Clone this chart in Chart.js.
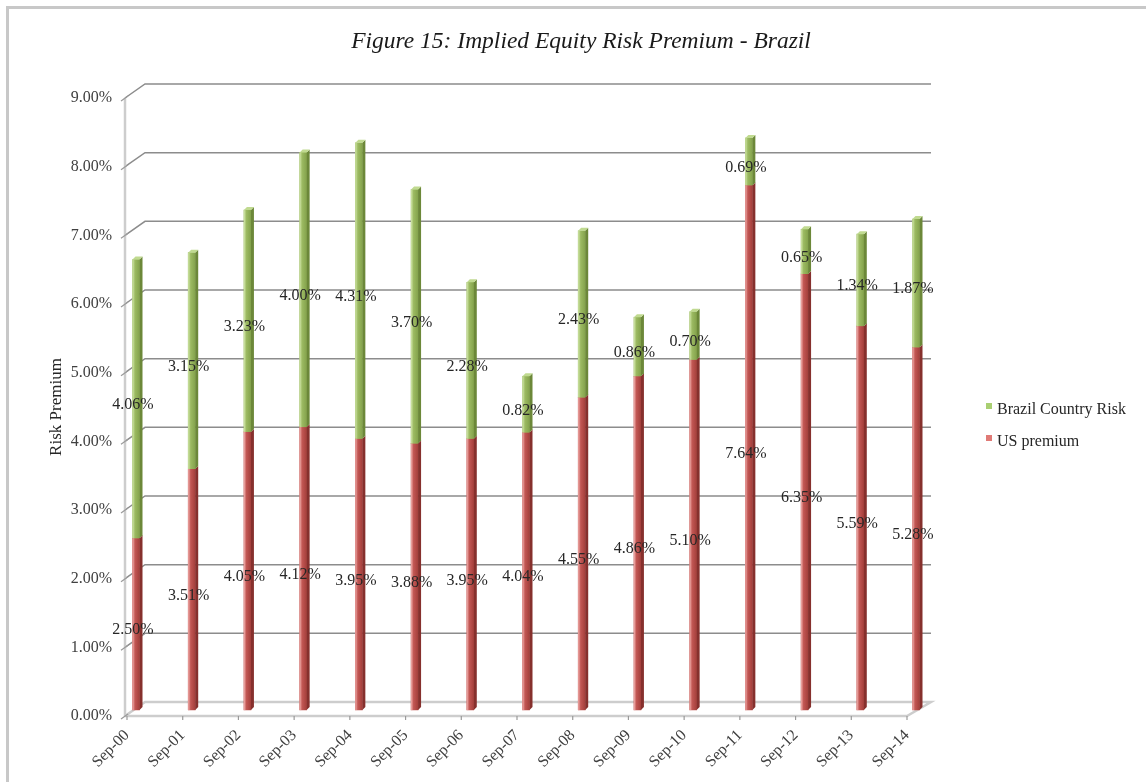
<!DOCTYPE html>
<html>
<head>
<meta charset="utf-8">
<title>Implied Equity Risk Premium - Brazil</title>
<script src="https://cdn.jsdelivr.net/npm/chart.js@4.4.1/dist/chart.umd.min.js"></script>
<style>
  html, body { margin: 0; padding: 0; background: #ffffff; }
  #wrap { width: 1146px; height: 782px; }
</style>
</head>
<body>
<div id="wrap"><canvas id="erpChart" width="1146" height="782"></canvas></div>
<script>
// Sep snapshots, values in percent
const months = ['Sep-00', 'Sep-01', 'Sep-02', 'Sep-03', 'Sep-04', 'Sep-05', 'Sep-06', 'Sep-07',
                'Sep-08', 'Sep-09', 'Sep-10', 'Sep-11', 'Sep-12', 'Sep-13', 'Sep-14'];
const usPremium = [2.50, 3.51, 4.05, 4.12, 3.95, 3.88, 3.95, 4.04, 4.55, 4.86, 5.10, 7.64, 6.35, 5.59, 5.28];
const brazilCountryRisk = [4.06, 3.15, 3.23, 4.00, 4.31, 3.70, 2.28, 0.82, 2.43, 0.86, 0.70, 0.69, 0.65, 1.34, 1.87];
const axisTicks = [0, 1, 2, 3, 4, 5, 6, 7, 8, 9];

const SERIF = "'Liberation Serif', 'Times New Roman', serif";
const DEPTH_X = 18, DEPTH_Y = 14;     // back wall offset
const BAR_DX = 9, BAR_DY = -6;        // bars stand half way into the floor
const SIDE = 3;                       // bar side face

// shading for the pseudo-3D columns (US premium, Brazil country risk)
const shades = [
    { light: '#f3b2af', mid: '#c25754', dark: '#a43f3b', side: '#86302d', top: '#d88380', key: '#e07a76' },
    { light: '#d3e8ab', mid: '#9cba62', dark: '#84a34c', side: '#6c8839', top: '#c0da90', key: '#a9cf72' }
];

const pct = v => v.toFixed(2) + '%';

const threeDPlugin = {
    id: 'threeD',
    beforeDraw(chart) {
        const ctx = chart.ctx;
        // outer frame
        ctx.save();
        ctx.strokeStyle = '#c8c8c8';
        ctx.lineWidth = 3;
        ctx.beginPath();
        ctx.moveTo(7.5, chart.height);
        ctx.lineTo(7.5, 7.5);
        ctx.lineTo(chart.width, 7.5);
        ctx.stroke();
        ctx.restore();
    },
    beforeDatasetsDraw(chart) {
        const { ctx, chartArea: a, scales: { x, y } } = chart;
        const rightX = a.right + DEPTH_X + 6;
        ctx.save();

        // back wall gridlines with their side-wall diagonals
        ctx.strokeStyle = '#8c8c8c';
        ctx.lineWidth = 1.5;
        axisTicks.forEach(v => {
            if (v === 0) return;
            const py = y.getPixelForValue(v);
            ctx.beginPath();
            ctx.moveTo(a.left - 2, py);
            ctx.lineTo(a.left + DEPTH_X, py - DEPTH_Y);
            ctx.lineTo(rightX, py - DEPTH_Y);
            ctx.stroke();
        });

        // floor
        const y0 = y.getPixelForValue(0);
        ctx.strokeStyle = '#cdcdcd';
        ctx.lineWidth = 2.5;
        ctx.beginPath();
        ctx.moveTo(a.left - 2, y0);
        ctx.lineTo(a.right, y0);
        ctx.lineTo(rightX, y0 - DEPTH_Y);
        ctx.lineTo(a.left + DEPTH_X, y0 - DEPTH_Y);
        ctx.lineTo(a.left - 2, y0);
        ctx.stroke();

        // front value axis
        ctx.beginPath();
        ctx.moveTo(a.left - 2, y.getPixelForValue(axisTicks[axisTicks.length - 1]));
        ctx.lineTo(a.left - 2, y0);
        ctx.stroke();

        // small slanted tick marks on the value axis
        ctx.strokeStyle = '#9a9a9a';
        ctx.lineWidth = 1.2;
        axisTicks.forEach(v => {
            const py = y.getPixelForValue(v);
            ctx.beginPath();
            ctx.moveTo(a.left - 6, py + 3);
            ctx.lineTo(a.left + 1, py - 2);
            ctx.stroke();
        });

        // category tick marks on the floor edge
        months.forEach((m, i) => {
            const px = x.getPixelForValue(i);
            ctx.beginPath();
            ctx.moveTo(px, y0);
            ctx.lineTo(px, y0 + 4);
            ctx.stroke();
        });
        ctx.restore();

        // columns are drawn shifted into the depth of the floor
        ctx.save();
        ctx.translate(BAR_DX, BAR_DY);
    },
    afterDatasetsDraw(chart) {
        const ctx = chart.ctx;
        const last = chart.data.datasets.length - 1;

        chart.data.datasets.forEach((ds, di) => {
            const s = shades[di];
            chart.getDatasetMeta(di).data.forEach(el => {
                const { x, y, base, width } = el.getProps(['x', 'y', 'base', 'width'], true);
                const left = x - width / 2, right = x + width / 2;
                const top = Math.min(y, base), bottom = Math.max(y, base);

                const g = ctx.createLinearGradient(left, 0, right, 0);
                g.addColorStop(0, s.light);
                g.addColorStop(0.35, s.mid);
                g.addColorStop(1, s.dark);
                ctx.fillStyle = g;
                ctx.fillRect(left, top, width, bottom - top);

                ctx.fillStyle = s.side;
                ctx.beginPath();
                ctx.moveTo(right, top);
                ctx.lineTo(right + SIDE, top - SIDE);
                ctx.lineTo(right + SIDE, bottom - SIDE);
                ctx.lineTo(right, bottom);
                ctx.closePath();
                ctx.fill();

                if (di === last) {
                    ctx.fillStyle = s.top;
                    ctx.beginPath();
                    ctx.moveTo(left, top);
                    ctx.lineTo(left + SIDE, top - SIDE);
                    ctx.lineTo(right + SIDE, top - SIDE);
                    ctx.lineTo(right, top);
                    ctx.closePath();
                    ctx.fill();
                }
            });
        });
        ctx.restore();

        // value labels centred on each segment
        ctx.save();
        ctx.font = '16px ' + SERIF;
        ctx.fillStyle = '#262626';
        ctx.textAlign = 'center';
        ctx.textBaseline = 'middle';
        chart.data.datasets.forEach((ds, di) => {
            chart.getDatasetMeta(di).data.forEach((el, i) => {
                const { x, y, base } = el.getProps(['x', 'y', 'base'], true);
                ctx.fillText(pct(ds.data[i]), x + 6, (y + base) / 2);
            });
        });
        ctx.restore();
    },
    afterDraw(chart) {
        // legend, top series first
        const ctx = chart.ctx;
        const boxX = 986, textX = 997, firstY = 410, rowGap = 32;
        ctx.save();
        ctx.font = '16px ' + SERIF;
        ctx.fillStyle = '#262626';
        ctx.textBaseline = 'middle';
        const order = chart.data.datasets.map((d, i) => i).reverse();
        order.forEach((di, row) => {
            const cy = firstY + row * rowGap;
            ctx.fillStyle = shades[di].key;
            ctx.fillRect(boxX, cy - 7, 6, 6);
            ctx.fillStyle = '#262626';
            ctx.fillText(chart.data.datasets[di].label, textX, cy);
        });
        ctx.restore();
    }
};

Chart.defaults.font.family = SERIF;

new Chart(document.getElementById('erpChart'), {
    type: 'bar',
    data: {
        labels: months,
        datasets: [
            {
                label: 'US premium',
                data: usPremium,
                backgroundColor: shades[0].mid,
                barThickness: 7,
                borderWidth: 0,
                clip: false
            },
            {
                label: 'Brazil Country Risk',
                data: brazilCountryRisk,
                backgroundColor: shades[1].mid,
                barThickness: 7,
                borderWidth: 0,
                clip: false
            }
        ]
    },
    options: {
        responsive: false,
        animation: false,
        layout: { padding: { left: 20, right: 4, top: 0, bottom: 0 } },
        plugins: {
            legend: { display: false },
            tooltip: { enabled: false },
            title: {
                display: true,
                text: 'Figure 15: Implied Equity Risk Premium - Brazil',
                color: '#1a1a1a',
                font: { family: SERIF, size: 23.5, style: 'italic', weight: 'normal' },
                padding: { top: 28, bottom: 41.8 }
            }
        },
        scales: {
            x: {
                stacked: true,
                offset: false,
                afterFit: s => { s.height = 66; },
                grid: { display: false, drawTicks: false },
                border: { display: false },
                ticks: {
                    autoSkip: false,
                    minRotation: 45,
                    maxRotation: 45,
                    padding: 10,
                    color: '#404040',
                    font: { family: SERIF, size: 16 }
                }
            },
            y: {
                stacked: true,
                min: 0,
                max: 9,
                afterBuildTicks: s => { s.ticks = axisTicks.map(v => ({ value: v })); },
                afterFit: s => { s.width = 107; },
                grid: { display: false, drawTicks: false },
                border: { display: false },
                ticks: {
                    padding: 15,
                    color: '#404040',
                    font: { family: SERIF, size: 16 },
                    callback: v => pct(v)
                },
                title: {
                    display: true,
                    text: 'Risk Premium',
                    color: '#262626',
                    font: { family: SERIF, size: 17 },
                    padding: { top: 26, bottom: 0 }
                }
            },
            // empty right-hand strip that holds the legend
            legendGap: {
                type: 'linear',
                position: 'right',
                display: true,
                grid: { display: false },
                border: { display: false },
                ticks: { display: false },
                afterFit: s => { s.width = 235; }
            }
        }
    },
    plugins: [threeDPlugin]
});
</script>
</body>
</html>
